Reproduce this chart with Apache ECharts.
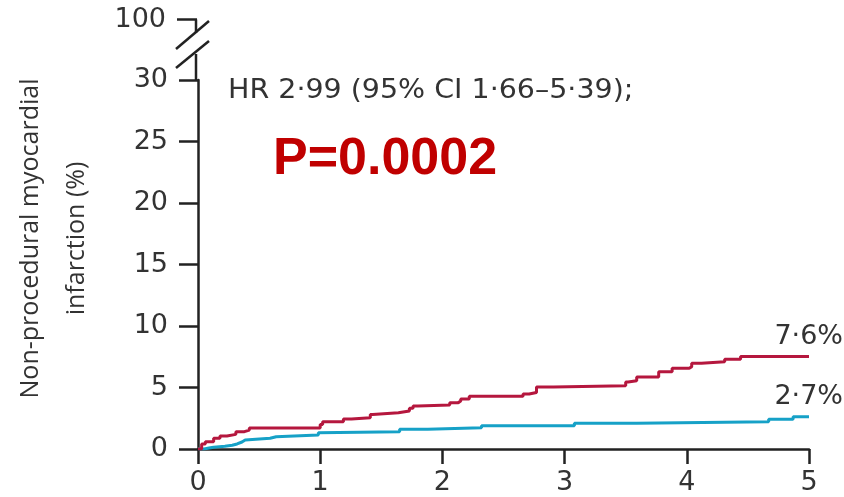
<!DOCTYPE html>
<html><head><meta charset="utf-8">
<script src="https://cdn.jsdelivr.net/npm/echarts@6/dist/echarts.min.js"></script>
<style>html,body{margin:0;padding:0;background:#fff}#c{width:844px;height:497px}</style>
</head><body><div id="c"></div>
<script>
// ---- data ----
const redTimes  = [0, 0.03, 0.06, 0.128, 0.18, 0.237, 0.31, 0.38, 0.42, 1.0, 1.02, 1.19, 1.256, 1.41, 1.43, 1.64, 1.73, 1.76, 1.80, 2.06, 2.13, 2.15, 2.22, 2.66, 2.71, 2.77, 2.91, 3.50, 3.52, 3.59, 3.77, 3.88, 4.02, 4.04, 4.12, 4.31, 4.44, 5.0];
const redValues = [0, 0.41, 0.59, 0.87, 1.06, 1.19, 1.41, 1.54, 1.71, 2.0, 2.22, 2.44, 2.55, 2.8, 2.95, 3.09, 3.31, 3.5, 3.58, 3.77, 3.9, 4.07, 4.28, 4.47, 4.6, 5.05, 5.15, 5.45, 5.55, 5.85, 6.29, 6.56, 6.69, 6.97, 7.1, 7.29, 7.52, 7.52];
const blueTimes  = [0, 0.05, 0.09, 0.128, 0.22, 0.28, 0.32, 0.36, 0.386, 0.59, 0.64, 0.985, 1.0, 1.65, 1.88, 2.32, 3.08, 3.59, 4.67, 4.87, 5.0];
const blueValues = [0, 0.08, 0.15, 0.22, 0.3, 0.41, 0.57, 0.73, 0.87, 1.0, 1.14, 1.33, 1.41, 1.6, 1.73, 1.9, 2.09, 2.22, 2.41, 2.63, 2.63];
const xTickValues = [0, 1, 2, 3, 4, 5];
const yTickValues = [0, 5, 10, 15, 20, 25, 30];
const yBreakLabel = '100';
const redEndLabel = '7·6%';
const blueEndLabel = '2·7%';
const hrText = 'HR 2·99 (95% CI 1·66–5·39);';
const pText = 'P=0.0002';
const yAxisTitle = 'Non-procedural myocardial\ninfarction (%)';

// ---- layout ----
const G = {left: 196, right: 35, top: 80, bottom: 48};
const AX = '#222';
const TXT = '#333';
const tickFont = 'DejaVu Sans';

function pairs(ts, vs) { return ts.map((t, i) => [t, vs[i]]); }

const ax = G.left, ty = G.top;
const lineStyle = {stroke: AX, lineWidth: 2.5};
const graphics = [
  {type: 'line', shape: {x1: ax, y1: ty, x2: ax, y2: ty - 26}, style: lineStyle},
  {type: 'line', shape: {x1: ax - 20, y1: ty - 12, x2: ax + 13, y2: ty - 39}, style: lineStyle},
  {type: 'line', shape: {x1: ax - 20, y1: ty - 31, x2: ax + 13, y2: ty - 59}, style: lineStyle},
  {type: 'line', shape: {x1: ax, y1: ty - 47, x2: ax, y2: ty - 60.5}, style: lineStyle},
  {type: 'line', shape: {x1: ax - 19, y1: ty - 60.5, x2: ax + 1, y2: ty - 60.5}, style: lineStyle},
  {type: 'text', x: ax - 30, y: ty - 60.5, style: {text: yBreakLabel, fill: TXT, font: '27px "' + tickFont + '"', align: 'right', verticalAlign: 'middle'}},
  {type: 'text', x: 228, y: 91, scaleX: 1.055, style: {text: hrText, fill: TXT, font: '27px "DejaVu Sans"', align: 'left', verticalAlign: 'middle'}},
  {type: 'text', x: 273, y: 160, style: {text: pText, fill: '#c00000', font: 'bold 52px "Liberation Sans"', align: 'left', verticalAlign: 'middle'}}
];

const chart = echarts.init(document.getElementById('c'), null, {renderer: 'canvas'});
chart.setOption({
  animation: false,
  backgroundColor: '#fff',
  grid: {left: G.left, right: G.right, top: G.top, bottom: G.bottom, containLabel: false},
  xAxis: {
    type: 'value', min: 0, max: 5, interval: 1,
    axisLine: {show: true, lineStyle: {color: AX, width: 2.5}},
    axisTick: {show: true, length: 15, lineStyle: {color: AX, width: 2.5}},
    axisLabel: {color: TXT, fontFamily: tickFont, fontSize: 27, margin: 20,
      formatter: v => xTickValues.includes(v) ? String(v) : ''},
    splitLine: {show: false}
  },
  yAxis: {
    type: 'value', min: 0, max: 30, interval: 5,
    name: yAxisTitle, nameLocation: 'middle', nameGap: 98, nameRotate: 90,
    nameTextStyle: {color: TXT, fontFamily: 'Open Sans', fontSize: 25, lineHeight: 46, align: 'center', padding: [0, 0, 0, 52]},
    axisLine: {show: true, lineStyle: {color: AX, width: 2.5}},
    axisTick: {show: true, length: 19, lineStyle: {color: AX, width: 2.5}},
    axisLabel: {color: TXT, fontFamily: tickFont, fontSize: 27, margin: 30,
      formatter: v => yTickValues.includes(v) ? String(v) : ''},
    splitLine: {show: false}
  },
  series: [
    {type: 'line', name: 'red', step: 'end', showSymbol: false, data: pairs(redTimes, redValues),
     lineStyle: {color: '#b5173e', width: 3}, itemStyle: {color: '#b5173e'}, z: 3,
     endLabel: {show: true, formatter: redEndLabel, color: TXT, fontFamily: tickFont, fontSize: 27,
       align: 'right', verticalAlign: 'bottom', offset: [26, -6]}},
    {type: 'line', name: 'blue', step: 'end', showSymbol: false, data: pairs(blueTimes, blueValues),
     lineStyle: {color: '#16a1c7', width: 3}, itemStyle: {color: '#16a1c7'}, z: 2,
     endLabel: {show: true, formatter: blueEndLabel, color: TXT, fontFamily: tickFont, fontSize: 27,
       align: 'right', verticalAlign: 'bottom', offset: [26, -6]}}
  ],
  graphic: graphics
});
</script>
</body></html>
